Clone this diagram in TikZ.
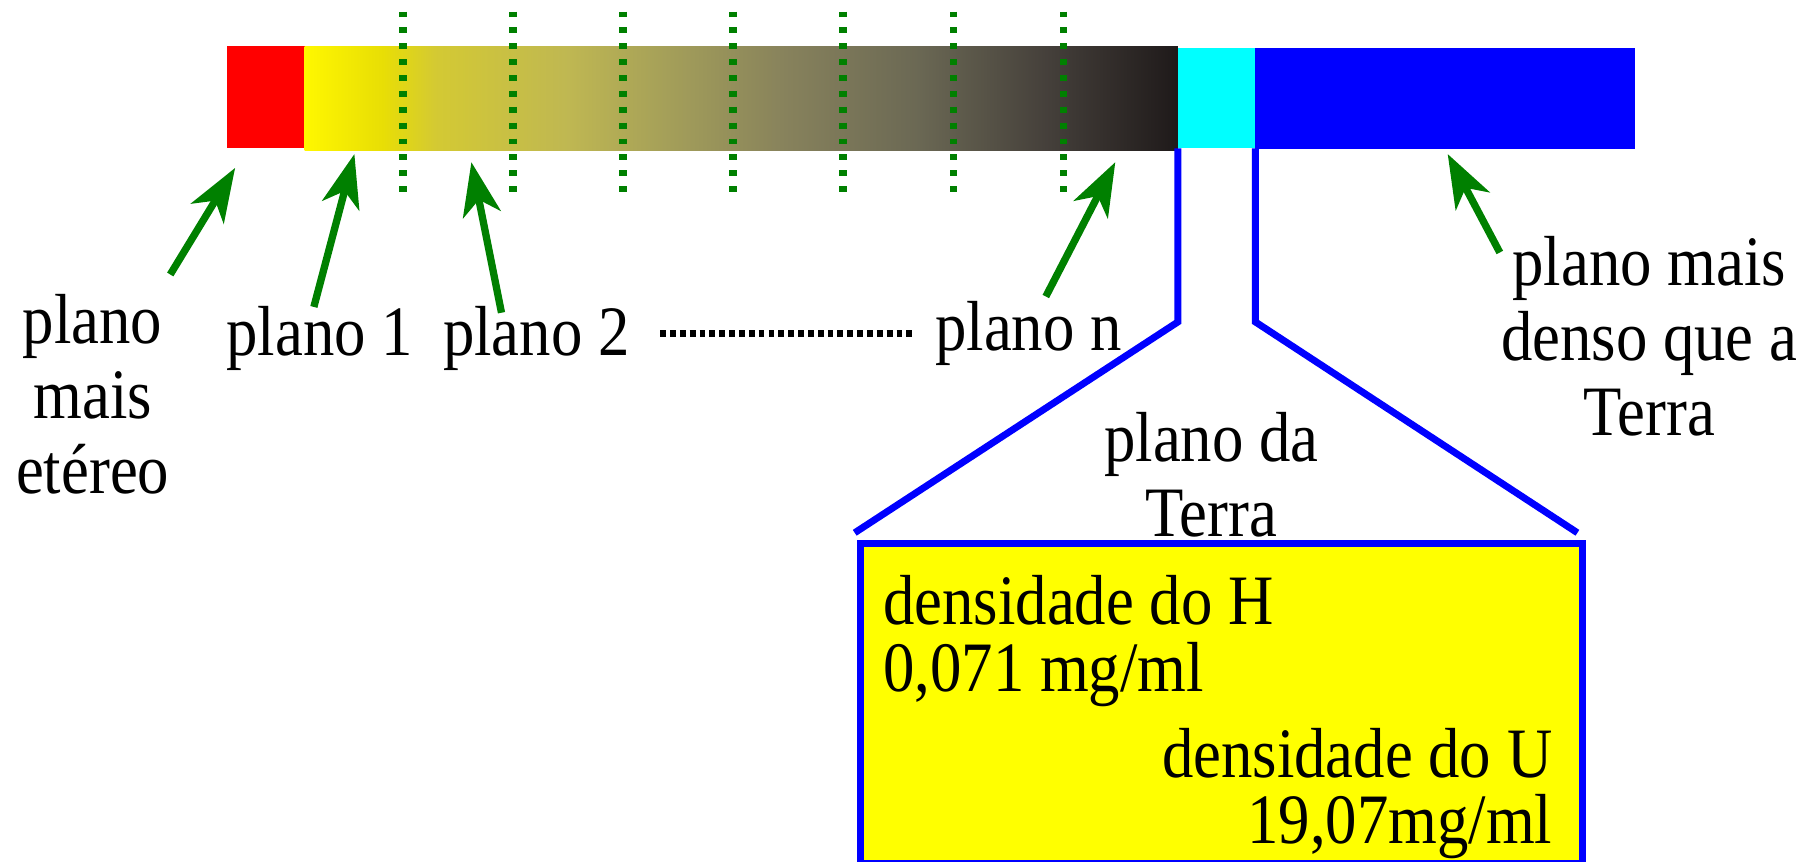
\documentclass[tikz,border=0pt]{standalone}
\usepackage{fontspec}
\setmainfont{Liberation Serif}
\usetikzlibrary{arrows.meta}
\definecolor{dgreen}{RGB}{0,128,0}
\definecolor{pred}{RGB}{255,0,0}
\definecolor{pyellow}{RGB}{255,255,0}
\definecolor{pcyan}{RGB}{0,255,255}
\definecolor{pblue}{RGB}{0,0,255}
\pgfdeclarehorizontalshading{barshade}{100bp}{
  rgb(0bp)=(1,0.97,0);
  rgb(25bp)=(1,0.97,0);
  rgb(29.5bp)=(0.91,0.87,0.02);
  rgb(32.5bp)=(0.83,0.79,0.2);
  rgb(40bp)=(0.75,0.72,0.32);
  rgb(46bp)=(0.64,0.62,0.35);
  rgb(52.5bp)=(0.53,0.51,0.36);
  rgb(60bp)=(0.42,0.41,0.33);
  rgb(67.5bp)=(0.27,0.25,0.23);
  rgb(75bp)=(0.12,0.10,0.10);
  rgb(100bp)=(0.12,0.10,0.10)}
\begin{document}
\begin{tikzpicture}[x=0.01cm,y=-0.01cm,
  lbl/.style={font=\fontsize{15.4}{16.3}\selectfont, align=center, inner sep=0pt, yscale=1.13, transform shape},
  boxtxt/.style={font=\fontsize{15.4}{16.3}\selectfont, inner sep=0pt, yscale=1.13, transform shape},
  garrow/.style={draw=dgreen, line width=1.8pt, -{Stealth[length=0.46cm,width=0.33cm,inset=0.13cm]}},
  gdots/.style={draw=dgreen, line width=1.8pt, dash pattern=on 0.05cm off 0.087cm},
  blueline/.style={draw=pblue, line width=1.7pt},
]
\useasboundingbox (0,0) rectangle (1568,744);
% bar
\fill[pred] (196,40) rectangle (263,128);
\shade[shading=barshade] (263,40) rectangle (1017,130);
\fill[pcyan] (1017,41) rectangle (1084,128);
\fill[pblue] (1084,41) rectangle (1412,129);
% dotted separators
\foreach \x in {348,443,538,633,728,823,918}
  \draw[gdots] (\x,10) -- (\x,172);
% labels
\node[lbl] (L0) at (80,340) {plano\\mais\\etéreo};
\node[lbl] (L1) at (276,292) {plano 1};
\node[lbl] (L2) at (463,292) {plano 2};
\node[lbl] (Ln) at (888,288) {plano n};
\node[lbl] (Ld) at (1424,290) {plano mais\\denso que a\\Terra};
\node[lbl] (Lt) at (1046,410) {plano da\\Terra};
% dots between
\coordinate (d1) at (570,288);
\coordinate (d2) at (790,288);
\draw[line width=1.6pt, dash pattern=on 0.05cm off 0.035cm] (d1) -- (d2);
% arrows
\coordinate (a0s) at (147,237); \coordinate (a0t) at (203,145);
\coordinate (a1s) at (271,265); \coordinate (a1t) at (306,133);
\coordinate (a2s) at (433,270); \coordinate (a2t) at (407,140);
\coordinate (ans) at (903,256); \coordinate (ant) at (963,140);
\coordinate (ads) at (1295,218); \coordinate (adt) at (1250,133);
\draw[garrow] (a0s) -- (a0t);
\draw[garrow] (a1s) -- (a1t);
\draw[garrow] (a2s) -- (a2t);
\draw[garrow] (ans) -- (ant);
\draw[garrow] (ads) -- (adt);
% zoom box
\node[draw=pblue, line width=1.7pt, fill=pyellow, minimum width=6.23cm, minimum height=2.76cm, inner sep=0pt, anchor=north west] (Tbox) at (740,466) {};
\coordinate (c1) at (1017,128); \coordinate (c2) at (1017,278); \coordinate (c3) at (738,460);
\coordinate (e1) at (1084,128); \coordinate (e2) at (1084,278); \coordinate (e3) at (1362,460);
\draw[blueline] (c1) -- (c2) -- (c3);
\draw[blueline] (e1) -- (e2) -- (e3);
\node[boxtxt, anchor=west] (t1) at (762,518) {densidade do H};
\node[boxtxt, anchor=west] (t2) at (762,582) {0,071 mg/ml};
\node[boxtxt, anchor=east] (t3) at (1341,650) {densidade do U};
\node[boxtxt, anchor=east] (t4) at (1341,714) {19,07mg/ml};
\end{tikzpicture}
\end{document}
